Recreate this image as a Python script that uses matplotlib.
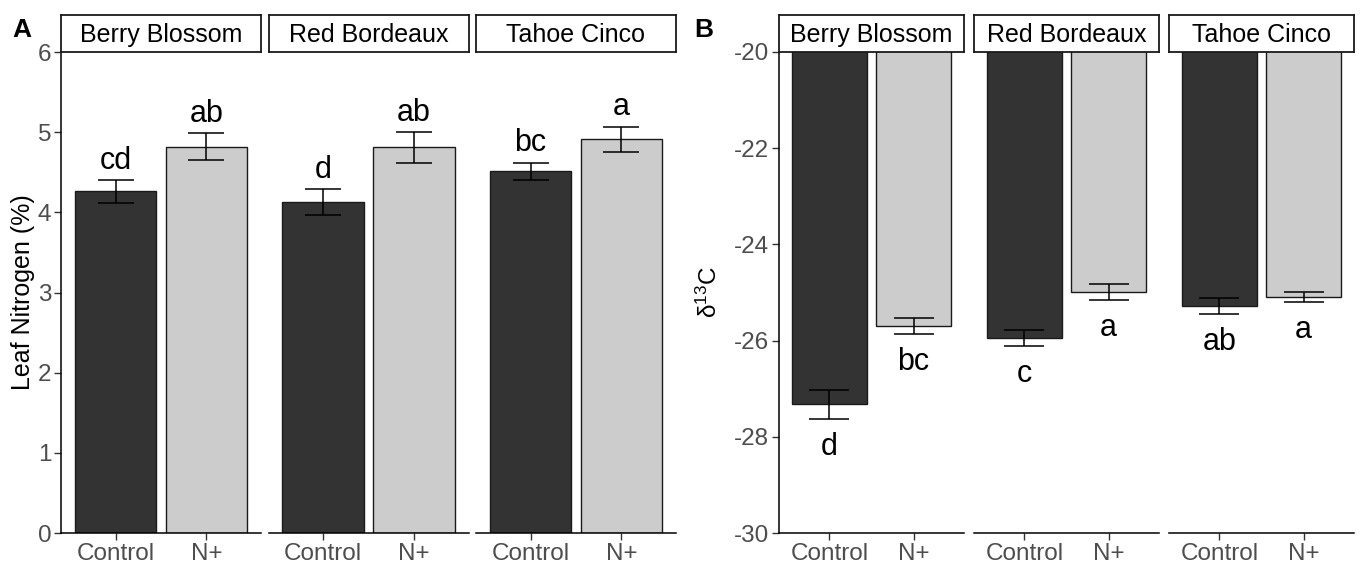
import matplotlib
matplotlib.use("Agg")
import matplotlib.pyplot as plt
import numpy as np

plt.rcParams['font.family'] = ['Liberation Sans', 'DejaVu Sans']
plt.rcParams['mathtext.default'] = 'regular'

# ---- data ----
varieties = ["Berry Blossom", "Red Bordeaux", "Tahoe Cinco"]
treatments = ["Control", "N+"]
bar_colors = ["#333333", "#CCCCCC"]

leafN_mean = [[4.26, 4.82], [4.13, 4.81], [4.51, 4.91]]
leafN_se = [[0.14, 0.17], [0.16, 0.19], [0.11, 0.16]]
leafN_letters = [["cd", "ab"], ["d", "ab"], ["bc", "a"]]
leafN_ticks = [0, 1, 2, 3, 4, 5, 6]

d13c_mean = [[-27.32, -25.69], [-25.95, -24.99], [-25.28, -25.09]]
d13c_se = [[0.30, 0.17], [0.16, 0.17], [0.16, 0.11]]
d13c_letters = [["d", "bc"], ["c", "a"], ["ab", "a"]]
d13c_ticks = [-30, -28, -26, -24, -22, -20]

W, H = 1361, 564
fig = plt.figure(figsize=(W / 100, H / 100), dpi=100)

def fx(px):
    return px / W

def fy(py):
    return 1 - py / H

ax_top, ax_bot = 52, 533
strip_top = 15

def make_panel(lefts, width, means, ses, letters, ylim, ticks, ylabel,
               ylabel_x, ylabel_size, letter_off, above, capsize):
    for i, left in enumerate(lefts):
        ax = fig.add_axes([fx(left), fy(ax_bot), width / W, (ax_bot - ax_top) / H])
        x = np.arange(1, len(treatments) + 1)
        ax.bar(x, means[i], width=0.9, color=bar_colors, edgecolor="#1a1a1a",
               linewidth=1.0, zorder=2)
        ax.errorbar(x, means[i], yerr=ses[i], fmt='none', ecolor='black',
                    elinewidth=1.1, capsize=capsize, capthick=1.1, zorder=3)
        for j in range(len(treatments)):
            if above:
                yv = means[i][j] + ses[i][j] + letter_off
            else:
                yv = means[i][j] - ses[i][j] - letter_off
            ax.text(x[j], yv, letters[i][j], ha='center', va='baseline',
                    fontsize=22, color='black', zorder=4)
        ax.set_xlim(0.4, 2.6)
        ax.set_ylim(*ylim)
        ax.set_xticks(x)
        ax.set_xticklabels(treatments)
        for s in ['top', 'right']:
            ax.spines[s].set_visible(False)
        ax.spines['bottom'].set_linewidth(1.1)
        ax.spines['left'].set_linewidth(1.1)
        ax.tick_params(axis='both', labelsize=17.5, labelcolor='#4D4D4D',
                       color='#333333', length=5, width=1.0, pad=2)
        if i == 0:
            ax.set_yticks(ticks)
            ax.set_yticklabels([str(t) for t in ticks])
        else:
            ax.spines['left'].set_visible(False)
            ax.set_yticks([])
        # strip
        sax = fig.add_axes([fx(left), fy(ax_top), width / W, (ax_top - strip_top) / H])
        sax.set_xticks([])
        sax.set_yticks([])
        for s in sax.spines.values():
            s.set_linewidth(1.3)
            s.set_color('#1a1a1a')
        sax.text(0.5, 0.45, varieties[i], ha='center', va='center',
                 fontsize=18, color='black', transform=sax.transAxes)
    fig.text(fx(ylabel_x), fy((ax_top + ax_bot) / 2), ylabel, rotation=90,
             ha='center', va='center', fontsize=ylabel_size, color='black')

make_panel([61, 268.5, 476], 200, leafN_mean, leafN_se, leafN_letters,
           (0, 6), leafN_ticks, "Leaf Nitrogen (%)", 23, 18, 0.14, True, 13)
make_panel([779, 974, 1169], 185, d13c_mean, d13c_se, d13c_letters,
           (-30, -20), d13c_ticks, "δ$^{13}$C", 709, 17.5, 0.75, False, 14.5)

fig.text(fx(12), fy(18), "A", ha='left', va='top', fontsize=19,
         fontweight='bold', color='black')
fig.text(fx(694), fy(18), "B", ha='left', va='top', fontsize=19,
         fontweight='bold', color='black')

fig.savefig("out.png", dpi=100)
